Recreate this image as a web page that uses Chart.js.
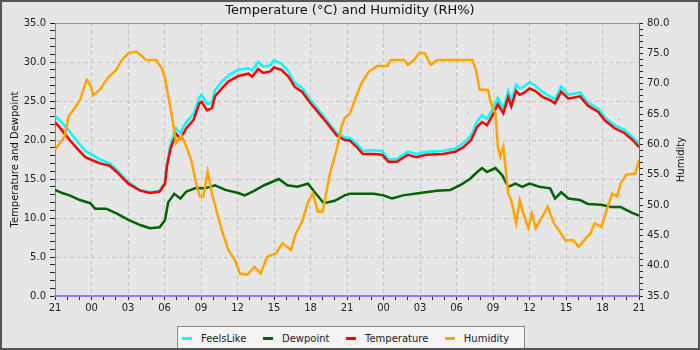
<!DOCTYPE html>
<html>
<head>
<meta charset="utf-8">
<script src="https://cdn.jsdelivr.net/npm/chart.js@4"></script>
<style>
  body { margin: 0; background: #e6e6e6; }
  #wrap { position: relative; width: 700px; height: 350px; background: #e6e6e6; overflow: hidden; }
  #frame { position: absolute; left: 0; top: 0; width: 700px; height: 350px; box-sizing: border-box; border: 2px solid #555; pointer-events: none; }
  #legend { position: absolute; left: 177px; top: 326px; width: 348px; height: 24px; box-sizing: border-box;
            background: #f4f4f4; border: 1px solid #8a8a8a; display: flex; align-items: center; padding-left: 4px;
            font: 10px "DejaVu Sans", sans-serif; color: #222; }
  #legend .item { display: flex; align-items: center; margin-right: 16.5px; }
  #legend .mark { width: 10px; height: 3px; margin-right: 9px; }
</style>
</head>
<body>
<div id="wrap">
  <canvas id="chart" width="700" height="350"></canvas>
  <div id="legend"></div>
  <div id="frame"></div>
</div>
<script>
// x = hours since 21:00 on the first day
const hourLabels = ['21', '00', '03', '06', '09', '12', '15', '18', '21', '00', '03', '06', '09', '12', '15', '18', '21'];

const tempHours = [0, 0.6, 1.2, 2.05, 2.5, 3.07, 3.7, 4.5, 5.07, 6.03, 7, 7.8, 8.6, 9.04, 9.2,
  9.5, 9.95, 10.3, 10.8, 11.4, 11.86, 12.05, 12.5, 12.9, 13.15, 13.7, 14.25, 15.07, 15.9, 16.2,
  16.7, 17.1, 17.7, 18.0, 18.6, 19.2, 19.7, 20.3, 21, 21.6, 22.4, 23.15, 23.8, 24.25, 24.8,
  25.3, 26.2, 26.9, 27.4, 28.1, 29.0, 29.7, 30.5, 31.9, 32.9, 33.6, 34.2, 34.7, 35.1, 35.5,
  35.9, 36.4, 36.85, 37.25, 37.5, 37.9, 38.2, 38.6, 39.0, 39.45, 40.1, 40.7, 41.1, 41.6, 42.2,
  43.15, 43.8, 44.65, 45.2, 46, 46.8, 47.4, 48];
const temperature = [22.3, 21.2, 20.0, 18.5, 17.8, 17.4, 17.0, 16.7, 15.9, 14.4, 13.5, 13.2, 13.4, 14.4, 16.6,
  18.9, 20.8, 20.2, 21.5, 22.6, 24.7, 24.9, 23.8, 24.1, 25.6, 26.6, 27.5, 28.2, 28.5, 28.1,
  29.1, 28.6, 28.8, 29.3, 29.0, 28.1, 26.8, 26.2, 24.7, 23.6, 22.1, 20.6, 20.0, 19.9, 19.1,
  18.2, 18.2, 18.1, 17.2, 17.2, 18.1, 17.8, 18.1, 18.2, 18.5, 19.1, 20.0, 21.7, 22.3, 21.9,
  23.0, 24.6, 23.4, 25.5, 24.3, 26.3, 25.8, 26.1, 26.6, 26.3, 25.5, 25.1, 24.7, 26.2, 25.3,
  25.6, 24.4, 23.6, 22.5, 21.5, 20.9, 20.1, 19.1];
const feelsLike = [23.1, 22.2, 21.1, 19.4, 18.6, 18.1, 17.5, 17.0, 16.2, 14.6, 13.6, 13.3, 13.5, 14.6, 17.0,
  19.5, 21.5, 20.9, 22.3, 23.4, 25.5, 25.8, 24.6, 24.9, 26.4, 27.5, 28.3, 29.0, 29.2, 28.9,
  30.0, 29.4, 29.6, 30.2, 29.8, 28.8, 27.3, 26.7, 25.1, 24.0, 22.4, 20.9, 20.3, 20.3, 19.5,
  18.6, 18.7, 18.6, 17.5, 17.6, 18.5, 18.2, 18.5, 18.6, 18.9, 19.6, 20.6, 22.4, 23.2, 22.7,
  23.8, 25.4, 24.1, 26.3, 25.0, 27.1, 26.6, 26.9, 27.4, 27.0, 26.1, 25.6, 25.2, 26.9, 25.8,
  26.1, 24.8, 24.0, 22.9, 21.9, 21.3, 20.5, 19.5];

const dewHours = [0, 0.6, 1.2, 2.05, 2.9, 3.3, 4.2, 5.05, 6.0, 7, 7.8, 8.6, 9.04, 9.3, 9.8,
  10.3, 10.8, 11.5, 12.3, 13.15, 14.0, 15.07, 15.6, 16.4, 17.2, 18.4, 19.1, 19.9, 20.8, 21.4,
  22.1, 23.0, 23.8, 24.25, 26.2, 27.0, 27.7, 28.6, 30.0, 31.4, 32.5, 33.3, 34.1, 34.7, 35.1,
  35.5, 36.2, 36.75, 37.25, 37.85, 38.4, 39.0, 39.8, 40.7, 41.1, 41.6, 42.2, 43.15, 43.8, 44.9,
  45.7, 46.5, 47.4, 48];
const dewpoint = [13.6, 13.2, 12.9, 12.3, 11.9, 11.2, 11.2, 10.6, 9.8, 9.1, 8.7, 8.8, 9.7, 12.0, 13.1,
  12.5, 13.4, 13.8, 13.8, 14.2, 13.6, 13.2, 12.9, 13.5, 14.2, 15.0, 14.2, 14.0, 14.4, 13.2,
  11.9, 12.2, 12.9, 13.1, 13.1, 12.9, 12.5, 12.9, 13.2, 13.5, 13.6, 14.2, 15.0, 15.9, 16.4,
  15.9, 16.4, 15.5, 14.0, 14.4, 14.0, 14.4, 14.0, 13.8, 12.5, 13.3, 12.5, 12.3, 11.8, 11.7,
  11.4, 11.4, 10.7, 10.3];

const humHours = [0, 0.4, 0.8, 1.1, 1.6, 2.05, 2.6, 2.9, 3.15, 3.7, 4.3, 5.05, 5.5, 6.0, 6.7,
  7.5, 8.3, 8.8, 9.04, 9.3, 9.6, 9.95, 10.4, 10.8, 11.2, 11.6, 11.9, 12.2, 12.55, 12.9,
  13.3, 13.7, 14.25, 14.8, 15.2, 15.8, 16.4, 16.9, 17.45, 18.15, 18.7, 19.4, 19.8, 20.3, 20.8,
  21.2, 21.6, 22.0, 22.6, 23.15, 23.55, 23.8, 24.25, 24.7, 25.2, 25.8, 26.5, 27.3, 27.6, 28.7,
  29.0, 29.5, 29.97, 30.4, 30.9, 31.4, 33.2, 34.3, 34.6, 34.9, 35.6, 35.8, 36.2, 36.4, 36.6,
  36.85, 37.05, 37.25, 37.5, 37.9, 38.2, 38.5, 38.9, 39.2, 39.5, 39.9, 40.5, 41.0, 41.4, 41.95,
  42.6, 43.05, 43.5, 44.0, 44.35, 44.9, 45.35, 45.8, 46.2, 46.5, 46.95, 47.7, 48];
const humidity = [59.1, 60.2, 61.3, 64.6, 65.9, 67.3, 70.6, 69.8, 68.1, 69.0, 70.9, 72.3, 73.9, 75.0, 75.3,
  73.9, 73.9, 72.5, 70.9, 68.1, 64.8, 60.2, 61.5, 59.6, 57.4, 53.6, 51.4, 51.4, 55.5, 51.9,
  48.9, 45.9, 42.6, 40.9, 38.7, 38.5, 39.8, 38.7, 41.5, 42.0, 43.7, 42.6, 45.3, 47.2, 50.5,
  51.9, 48.9, 48.9, 55.2, 59.1, 62.9, 64.3, 65.1, 67.6, 70.1, 72.0, 72.9, 72.9, 73.9, 73.9,
  73.1, 73.9, 75.1, 75.0, 73.1, 73.9, 73.9, 73.9, 72.3, 69.0, 69.0, 67.0, 65.1, 59.6, 58.0,
  59.6, 55.8, 51.9, 50.8, 47.0, 50.8, 48.6, 46.2, 48.6, 46.2, 47.5, 49.7, 47.0, 45.9, 44.2,
  44.2, 43.1, 44.2, 45.3, 47.0, 46.4, 49.2, 51.9, 51.4, 53.6, 55.0, 55.2, 57.4];

function pts(xs, ys) {
  return xs.map((x, i) => ({ x: x, y: ys[i] }));
}

Chart.defaults.font.family = '"DejaVu Sans", sans-serif';
Chart.defaults.color = '#222';

// top edge of the plot box + right axis title (reads bottom to top, like the left one)
const frameExtras = {
  id: 'frameExtras',
  beforeDatasetsDraw(chart) {
    const a = chart.chartArea, ctx = chart.ctx;
    ctx.save();
    ctx.strokeStyle = '#999';
    ctx.lineWidth = 1;
    ctx.beginPath();
    ctx.moveTo(a.left, a.top + 0.5);
    ctx.lineTo(a.right, a.top + 0.5);
    ctx.stroke();
    ctx.restore();
  },
  afterDraw(chart) {
    const a = chart.chartArea, ctx = chart.ctx;
    const s = chart.scales.y1;
    ctx.save();
    ctx.translate(s.right - 19, (a.top + a.bottom) / 2);
    ctx.rotate(-Math.PI / 2);
    ctx.font = '10px "DejaVu Sans", sans-serif';
    ctx.fillStyle = '#111';
    ctx.textAlign = 'center';
    ctx.textBaseline = 'middle';
    ctx.fillText('Humidity', 0, 0);
    ctx.restore();
  }
};

const chart = new Chart(document.getElementById('chart'), {
  type: 'line',
  data: {
    datasets: [
      { label: 'FeelsLike', data: pts(tempHours, feelsLike), borderColor: '#00ffff', yAxisID: 'y', order: 4 },
      { label: 'Dewpoint', data: pts(dewHours, dewpoint), borderColor: '#006400', yAxisID: 'y', order: 3 },
      { label: 'Temperature', data: pts(tempHours, temperature), borderColor: '#ff0000', yAxisID: 'y', order: 2 },
      { label: 'Humidity', data: pts(humHours, humidity), borderColor: '#ffa500', yAxisID: 'y1', order: 1 }
    ]
  },
  options: {
    responsive: false,
    animation: false,
    layout: { padding: 0 },
    elements: {
      line: { borderWidth: 2.5, tension: 0, fill: false },
      point: { radius: 0 }
    },
    plugins: {
      legend: { display: false },
      tooltip: { enabled: false },
      title: {
        display: true,
        text: 'Temperature (°C) and Humidity (RH%)',
        color: '#111',
        font: { size: 13, weight: 'normal' },
        padding: { top: 3, bottom: 4.4 }
      }
    },
    scales: {
      x: {
        type: 'linear',
        min: 0,
        max: 48,
        ticks: {
          stepSize: 1,
          autoSkip: false,
          maxRotation: 0,
          padding: 2,
          font: { size: 10 },
          callback: v => (v % 3 === 0 ? hourLabels[v / 3] : '')
        },
        grid: {
          color: c => (c.tick && c.tick.value % 3 === 0 ? '#c4c4c4' : 'rgba(0,0,0,0)'),
          tickColor: '#222',
          tickLength: 4
        },
        border: { color: '#8585f2', width: 2, dash: [4, 3] },
        afterFit: s => { s.height = 54; }
      },
      y: {
        position: 'left',
        min: 0,
        max: 35,
        ticks: {
          stepSize: 1,
          autoSkip: false,
          maxTicksLimit: 100,
          padding: 4,
          font: { size: 10 },
          callback: v => (v % 5 === 0 ? v.toFixed(1) : '')
        },
        grid: {
          color: c => (c.tick && c.tick.value % 5 === 0 ? '#c4c4c4' : 'rgba(0,0,0,0)'),
          tickColor: '#222',
          tickLength: 5
        },
        border: { color: '#888', dash: [4, 3] },
        title: {
          display: true,
          text: 'Temperature and Dewpoint',
          color: '#111',
          font: { size: 10 },
          padding: { top: 9, bottom: 0 }
        },
        afterFit: s => { s.width = 55; }
      },
      y1: {
        position: 'right',
        min: 35,
        max: 80,
        ticks: {
          stepSize: 1,
          autoSkip: false,
          maxTicksLimit: 100,
          padding: 4,
          font: { size: 10 },
          callback: v => (v % 5 === 0 ? v.toFixed(1) : '')
        },
        grid: {
          drawOnChartArea: false,
          tickColor: '#222',
          tickLength: 4
        },
        border: { color: '#666' },
        afterFit: s => { s.width = 61; }
      }
    }
  },
  plugins: [frameExtras]
});

// legend box under the chart
const legendEl = document.getElementById('legend');
chart.data.datasets.forEach(ds => {
  const item = document.createElement('div');
  item.className = 'item';
  const mark = document.createElement('span');
  mark.className = 'mark';
  mark.style.background = ds.borderColor;
  const txt = document.createElement('span');
  txt.textContent = ds.label;
  item.appendChild(mark);
  item.appendChild(txt);
  legendEl.appendChild(item);
});
</script>
</body>
</html>
